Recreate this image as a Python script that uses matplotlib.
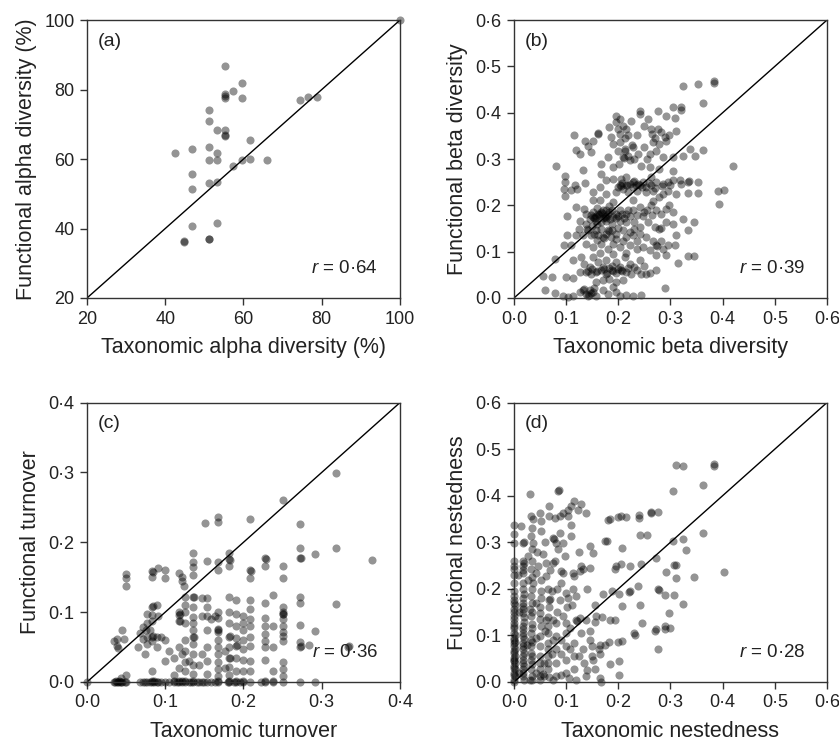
import numpy as np
import matplotlib.pyplot as plt

plt.rcParams['font.family'] = ['Liberation Sans', 'DejaVu Sans']
plt.rcParams['mathtext.fontset'] = 'custom'
plt.rcParams['mathtext.it'] = 'Liberation Sans:italic'
plt.rcParams['mathtext.rm'] = 'Liberation Sans'

# (a) taxonomic vs functional alpha diversity (%)
alpha_pts = [(100, 100), (55.3, 86.7), (59.6, 82.0), (55.3, 78.8), (57.4, 79.6),
             (55.3, 77.6), (59.6, 77.6), (74.5, 76.9), (76.6, 77.8), (78.7, 77.8),
             (51.1, 74.2), (51.1, 71.1), (53.2, 68.4), (55.3, 68.5), (55.3, 66.7),
             (55.3, 66.9), (61.7, 65.6), (42.6, 61.8), (46.8, 62.8), (51.1, 63.4),
             (53.2, 61.8), (51.1, 59.6), (53.2, 59.7), (57.4, 58.0), (59.6, 59.7),
             (61.7, 60.1), (66.0, 59.7), (46.8, 55.8), (51.1, 53.2), (53.2, 53.5),
             (46.8, 51.4), (46.8, 40.6), (53.2, 41.6), (44.7, 36.4), (44.8, 36.2),
             (51.1, 37.0), (51.2, 36.9), (55.3, 78.1)]

# (b) taxonomic vs functional beta diversity
beta_pts = [
    (0.324, 0.458), (0.353, 0.462), (0.383, 0.469), (0.383, 0.464), (0.362, 0.422),
    (0.305, 0.412), (0.321, 0.413), (0.321, 0.407), (0.276, 0.403), (0.241, 0.404),
    (0.241, 0.397), (0.196, 0.394), (0.203, 0.387), (0.225, 0.383), (0.257, 0.387),
    (0.292, 0.392), (0.308, 0.389),
    (0.183, 0.369), (0.196, 0.379), (0.209, 0.372), (0.215, 0.365), (0.186, 0.347),
    (0.203, 0.354), (0.219, 0.351), (0.235, 0.351), (0.250, 0.372), (0.263, 0.365),
    (0.276, 0.365), (0.282, 0.358), (0.292, 0.340), (0.289, 0.347), (0.311, 0.361),
    (0.298, 0.351), (0.161, 0.356), (0.162, 0.354), (0.115, 0.353), (0.137, 0.340),
    (0.151, 0.340), (0.266, 0.336), (0.279, 0.333), (0.203, 0.336), (0.190, 0.333),
    (0.142, 0.328), (0.127, 0.311), (0.148, 0.315), (0.119, 0.320), (0.180, 0.305),
    (0.199, 0.318), (0.212, 0.322), (0.219, 0.307), (0.228, 0.325), (0.238, 0.311),
    (0.250, 0.325), (0.260, 0.311), (0.273, 0.318), (0.286, 0.304), (0.305, 0.304),
    (0.324, 0.306), (0.337, 0.322), (0.348, 0.306), (0.362, 0.320), (0.080, 0.286),
    (0.132, 0.277), (0.167, 0.290), (0.201, 0.290), (0.222, 0.297), (0.244, 0.286),
    (0.260, 0.282), (0.279, 0.279), (0.420, 0.284), (0.305, 0.275), (0.209, 0.304),
    (0.211, 0.302), (0.200, 0.365), (0.212, 0.345), (0.226, 0.330), (0.213, 0.318),
    (0.230, 0.300), (0.255, 0.300), (0.265, 0.355), (0.270, 0.345), (0.190, 0.282),
    (0.098, 0.264), (0.097, 0.250), (0.095, 0.236), (0.098, 0.220), (0.117, 0.243),
    (0.121, 0.236), (0.137, 0.248), (0.167, 0.268), (0.177, 0.254), (0.190, 0.257),
    (0.199, 0.239), (0.206, 0.257), (0.215, 0.261), (0.228, 0.250), (0.230, 0.252),
    (0.238, 0.246), (0.247, 0.250), (0.254, 0.239), (0.263, 0.261), (0.273, 0.250),
    (0.286, 0.246), (0.295, 0.250), (0.305, 0.254), (0.318, 0.254), (0.311, 0.225),
    (0.334, 0.250), (0.353, 0.250), (0.334, 0.226), (0.353, 0.226), (0.391, 0.232),
    (0.402, 0.234), (0.196, 0.228), (0.209, 0.236), (0.219, 0.228), (0.235, 0.232),
    (0.254, 0.228), (0.266, 0.232), (0.286, 0.225), (0.295, 0.232), (0.164, 0.239),
    (0.151, 0.228), (0.177, 0.225), (0.203, 0.243), (0.205, 0.241), (0.215, 0.243),
    (0.217, 0.245), (0.241, 0.243), (0.228, 0.240), (0.258, 0.248), (0.110, 0.233),
    (0.208, 0.248), (0.222, 0.247), (0.234, 0.244), (0.246, 0.240), (0.262, 0.244),
    (0.270, 0.238), (0.283, 0.242), (0.300, 0.244), (0.320, 0.246), (0.336, 0.252),
    (0.393, 0.202), (0.102, 0.178), (0.119, 0.196), (0.135, 0.193), (0.139, 0.182),
    (0.151, 0.185), (0.158, 0.178), (0.164, 0.182), (0.171, 0.189), (0.177, 0.178),
    (0.183, 0.185), (0.190, 0.175), (0.196, 0.182), (0.203, 0.189), (0.215, 0.182),
    (0.228, 0.189), (0.241, 0.196), (0.250, 0.185), (0.263, 0.200), (0.273, 0.189),
    (0.282, 0.182), (0.292, 0.193), (0.305, 0.185), (0.324, 0.171), (0.164, 0.211),
    (0.190, 0.207), (0.151, 0.211), (0.228, 0.211), (0.266, 0.210), (0.279, 0.218),
    (0.298, 0.200), (0.158, 0.167), (0.167, 0.164), (0.177, 0.167), (0.187, 0.160),
    (0.203, 0.167), (0.215, 0.164), (0.231, 0.164), (0.241, 0.153), (0.257, 0.164),
    (0.270, 0.153), (0.279, 0.149), (0.281, 0.151), (0.292, 0.164), (0.305, 0.160),
    (0.346, 0.164), (0.126, 0.167), (0.139, 0.160), (0.151, 0.175), (0.153, 0.173),
    (0.161, 0.182), (0.163, 0.180), (0.174, 0.175), (0.176, 0.173), (0.167, 0.185),
    (0.169, 0.183), (0.177, 0.189), (0.145, 0.170), (0.185, 0.170), (0.195, 0.172),
    (0.210, 0.172), (0.222, 0.176), (0.236, 0.180), (0.160, 0.195), (0.182, 0.198),
    (0.148, 0.180), (0.155, 0.172), (0.160, 0.160), (0.170, 0.172), (0.180, 0.182),
    (0.188, 0.190), (0.200, 0.178), (0.207, 0.182), (0.218, 0.190), (0.248, 0.176),
    (0.256, 0.190), (0.265, 0.180), (0.140, 0.150), (0.150, 0.155), (0.200, 0.152),
    (0.102, 0.135), (0.119, 0.135), (0.132, 0.135), (0.142, 0.146), (0.148, 0.135),
    (0.158, 0.146), (0.167, 0.149), (0.177, 0.139), (0.187, 0.146), (0.196, 0.139),
    (0.209, 0.146), (0.215, 0.131), (0.228, 0.135), (0.241, 0.139), (0.254, 0.131),
    (0.266, 0.124), (0.282, 0.124), (0.295, 0.114), (0.308, 0.114), (0.311, 0.135),
    (0.334, 0.146), (0.095, 0.114), (0.110, 0.115), (0.139, 0.117), (0.151, 0.110),
    (0.167, 0.117), (0.180, 0.106), (0.190, 0.117), (0.203, 0.110), (0.222, 0.114),
    (0.235, 0.106), (0.247, 0.110), (0.260, 0.103), (0.273, 0.114), (0.275, 0.112),
    (0.286, 0.106), (0.171, 0.131), (0.173, 0.129), (0.180, 0.146), (0.182, 0.144),
    (0.196, 0.128), (0.209, 0.124), (0.160, 0.125), (0.124, 0.150), (0.230, 0.150),
    (0.154, 0.139), (0.162, 0.136), (0.186, 0.132), (0.222, 0.142), (0.235, 0.124),
    (0.078, 0.085), (0.113, 0.081), (0.129, 0.088), (0.135, 0.074), (0.145, 0.067),
    (0.151, 0.088), (0.161, 0.078), (0.171, 0.067), (0.177, 0.081), (0.187, 0.070),
    (0.196, 0.078), (0.203, 0.067), (0.212, 0.088), (0.222, 0.074), (0.231, 0.067),
    (0.241, 0.081), (0.250, 0.070), (0.273, 0.092), (0.292, 0.092), (0.334, 0.091),
    (0.346, 0.091), (0.314, 0.075), (0.273, 0.061), (0.139, 0.056), (0.141, 0.058),
    (0.148, 0.052), (0.158, 0.056), (0.160, 0.058), (0.167, 0.060), (0.177, 0.052),
    (0.179, 0.054), (0.187, 0.060), (0.189, 0.058), (0.196, 0.054), (0.206, 0.061),
    (0.208, 0.059), (0.215, 0.056), (0.225, 0.051), (0.235, 0.060), (0.244, 0.052),
    (0.254, 0.051), (0.260, 0.054), (0.126, 0.056), (0.100, 0.045), (0.113, 0.044),
    (0.072, 0.045), (0.056, 0.047), (0.171, 0.038), (0.183, 0.042), (0.196, 0.034),
    (0.209, 0.038), (0.158, 0.034), (0.190, 0.095), (0.215, 0.098), (0.165, 0.098),
    (0.150, 0.062), (0.172, 0.062), (0.183, 0.064), (0.199, 0.062), (0.218, 0.064),
    (0.060, 0.017), (0.078, 0.011), (0.094, 0.004), (0.104, 0.002), (0.113, 0.004),
    (0.126, 0.013), (0.132, 0.017), (0.139, 0.009), (0.145, 0.018), (0.151, 0.013),
    (0.158, 0.004), (0.171, 0.017), (0.180, 0.009), (0.190, 0.024), (0.196, 0.013),
    (0.203, 0.004), (0.215, 0.006), (0.228, 0.004), (0.244, 0.006), (0.289, 0.022),
    (0.142, 0.004), (0.144, 0.006), (0.154, 0.022), (0.147, 0.011), (0.135, 0.020),
]

# (c) taxonomic vs functional turnover
turn_pts = [
    (0.0, 0.0), (0.318, 0.299), (0.25, 0.261), (0.167, 0.236), (0.167, 0.229),
    (0.151, 0.228), (0.208, 0.234), (0.272, 0.226), (0.272, 0.192), (0.318, 0.192),
    (0.291, 0.183), (0.364, 0.174), (0.272, 0.178), (0.273, 0.177), (0.228, 0.178),
    (0.229, 0.176), (0.228, 0.166), (0.25, 0.166), (0.25, 0.149), (0.208, 0.161),
    (0.209, 0.159), (0.208, 0.149), (0.182, 0.185), (0.182, 0.176), (0.183, 0.175),
    (0.182, 0.166), (0.167, 0.172), (0.167, 0.16), (0.154, 0.173), (0.136, 0.185),
    (0.136, 0.172), (0.136, 0.165), (0.136, 0.153), (0.118, 0.156), (0.121, 0.151),
    (0.121, 0.144), (0.124, 0.137), (0.1, 0.16), (0.1, 0.149), (0.091, 0.163),
    (0.083, 0.159), (0.084, 0.157), (0.083, 0.151), (0.05, 0.154), (0.05, 0.149),
    (0.05, 0.137), (0.318, 0.111), (0.334, 0.05), (0.335, 0.051), (0.272, 0.122),
    (0.272, 0.113), (0.272, 0.082), (0.291, 0.073), (0.272, 0.057), (0.272, 0.05),
    (0.273, 0.052), (0.284, 0.053), (0.25, 0.107), (0.25, 0.1), (0.25, 0.097),
    (0.251, 0.098), (0.25, 0.09), (0.25, 0.08), (0.25, 0.072), (0.25, 0.066),
    (0.25, 0.058), (0.25, 0.028), (0.25, 0.018), (0.25, 0.008), (0.238, 0.125),
    (0.238, 0.08), (0.238, 0.05), (0.238, 0.015), (0.228, 0.113), (0.228, 0.092),
    (0.228, 0.08), (0.228, 0.068), (0.228, 0.058), (0.228, 0.05), (0.228, 0.032),
    (0.208, 0.118), (0.208, 0.104), (0.208, 0.09), (0.208, 0.08), (0.208, 0.065),
    (0.208, 0.052), (0.208, 0.03), (0.208, 0.015), (0.2, 0.095), (0.2, 0.085),
    (0.2, 0.075), (0.2, 0.06), (0.2, 0.047), (0.2, 0.032), (0.2, 0.016),
    (0.191, 0.118), (0.191, 0.098), (0.191, 0.08), (0.191, 0.063), (0.191, 0.052),
    (0.192, 0.053), (0.191, 0.035), (0.191, 0.015), (0.182, 0.122), (0.182, 0.1),
    (0.182, 0.085), (0.182, 0.065), (0.183, 0.066), (0.182, 0.05), (0.182, 0.035),
    (0.183, 0.034), (0.182, 0.022), (0.182, 0.01), (0.176, 0.045), (0.176, 0.02),
    (0.167, 0.1), (0.167, 0.092), (0.167, 0.076), (0.168, 0.074), (0.167, 0.072),
    (0.167, 0.06), (0.167, 0.05), (0.167, 0.04), (0.167, 0.028), (0.167, 0.018),
    (0.167, 0.008), (0.163, 0.095), (0.158, 0.09), (0.154, 0.12), (0.154, 0.108),
    (0.154, 0.095), (0.154, 0.075), (0.154, 0.05), (0.154, 0.03), (0.154, 0.012),
    (0.147, 0.12), (0.147, 0.095), (0.147, 0.04), (0.143, 0.025), (0.136, 0.122),
    (0.137, 0.121), (0.136, 0.108), (0.136, 0.093), (0.136, 0.084), (0.136, 0.074),
    (0.136, 0.065), (0.137, 0.064), (0.136, 0.055), (0.136, 0.04), (0.136, 0.025),
    (0.136, 0.012), (0.13, 0.03), (0.125, 0.122), (0.125, 0.11), (0.125, 0.1),
    (0.125, 0.085), (0.125, 0.06), (0.125, 0.045), (0.125, 0.028), (0.125, 0.015),
    (0.121, 0.04), (0.118, 0.1), (0.118, 0.096), (0.119, 0.097), (0.118, 0.087),
    (0.119, 0.088), (0.118, 0.05), (0.118, 0.02), (0.111, 0.035), (0.111, 0.01),
    (0.105, 0.045), (0.1, 0.03), (0.1, 0.06), (0.095, 0.065), (0.091, 0.095),
    (0.089, 0.11), (0.089, 0.065), (0.089, 0.05), (0.083, 0.108), (0.084, 0.109),
    (0.083, 0.096), (0.083, 0.087), (0.083, 0.065), (0.084, 0.066), (0.083, 0.058),
    (0.08, 0.075), (0.077, 0.097), (0.077, 0.085), (0.077, 0.065), (0.077, 0.055),
    (0.075, 0.075), (0.071, 0.078), (0.071, 0.062), (0.068, 0.07), (0.074, 0.04),
    (0.083, 0.015), (0.065, 0.05), (0.045, 0.075), (0.038, 0.062), (0.035, 0.058),
    (0.038, 0.052), (0.04, 0.048), (0.047, 0.062), (0.043, 0.005), (0.05, 0.01),
    (0.034, 0.0), (0.036, 0.0), (0.038, 0.0), (0.04, 0.0), (0.042, 0.0),
    (0.045, 0.0), (0.048, 0.0), (0.05, 0.0), (0.068, 0.0), (0.071, 0.0),
    (0.074, 0.0), (0.077, 0.0), (0.08, 0.0), (0.083, 0.0), (0.086, 0.0),
    (0.089, 0.0), (0.091, 0.0), (0.095, 0.0), (0.1, 0.0), (0.105, 0.0),
    (0.111, 0.0), (0.115, 0.0), (0.118, 0.0), (0.121, 0.0), (0.125, 0.0),
    (0.13, 0.0), (0.133, 0.0), (0.136, 0.0), (0.14, 0.0), (0.143, 0.0),
    (0.147, 0.0), (0.15, 0.0), (0.154, 0.0), (0.158, 0.0), (0.163, 0.0),
    (0.167, 0.0), (0.18, 0.0), (0.182, 0.0), (0.188, 0.0), (0.191, 0.0),
    (0.195, 0.0), (0.2, 0.0), (0.208, 0.0), (0.222, 0.0), (0.228, 0.0),
    (0.238, 0.0), (0.25, 0.0), (0.272, 0.0), (0.291, 0.0), (0.037, 0.001),
    (0.041, 0.002), (0.044, 0.0), (0.083, 0.001), (0.086, 0.002), (0.111, 0.001),
    (0.121, 0.001), (0.125, 0.002), (0.136, 0.001), (0.167, 0.001), (0.182, 0.001),
    (0.191, 0.001), (0.2, 0.001), (0.228, 0.001), (0.238, 0.001), (0.118, 0.001),
]

# (d) taxonomic vs functional nestedness
nest_pts = [
    (0.383, 0.469), (0.383, 0.464), (0.311, 0.466), (0.325, 0.464), (0.362, 0.422),
    (0.305, 0.411), (0.362, 0.320), (0.305, 0.303), (0.325, 0.306), (0.330, 0.283),
    (0.306, 0.252), (0.310, 0.252), (0.310, 0.224), (0.346, 0.226), (0.402, 0.237),
    (0.292, 0.236), (0.273, 0.267), (0.263, 0.362), (0.276, 0.365), (0.263, 0.366),
    (0.239, 0.358), (0.239, 0.352), (0.199, 0.355), (0.205, 0.356), (0.215, 0.355),
    (0.185, 0.351), (0.180, 0.347), (0.241, 0.315), (0.255, 0.315), (0.208, 0.288),
    (0.178, 0.303), (0.175, 0.303), (0.206, 0.253), (0.193, 0.242), (0.196, 0.248),
    (0.222, 0.249), (0.244, 0.253), (0.238, 0.207), (0.276, 0.199), (0.278, 0.197),
    (0.221, 0.193), (0.222, 0.195), (0.289, 0.186), (0.306, 0.186), (0.171, 0.190),
    (0.187, 0.195), (0.202, 0.188), (0.208, 0.163), (0.242, 0.165), (0.297, 0.148),
    (0.324, 0.168), (0.169, 0.140), (0.185, 0.133), (0.193, 0.133), (0.157, 0.141),
    (0.272, 0.114), (0.271, 0.109), (0.289, 0.121), (0.299, 0.116), (0.289, 0.114),
    (0.231, 0.105), (0.233, 0.100), (0.246, 0.127), (0.276, 0.070), (0.202, 0.046),
    (0.202, 0.016), (0.185, 0.039), (0.164, 0.080), (0.174, 0.080), (0.183, 0.085),
    (0.199, 0.086), (0.208, 0.087), (0.150, 0.077), (0.163, 0.071), (0.155, 0.128),
    (0.145, 0.110), (0.165, 0.060), (0.150, 0.055),
    (0.084, 0.410), (0.086, 0.413), (0.031, 0.403), (0.116, 0.389), (0.129, 0.383),
    (0.123, 0.370), (0.110, 0.378), (0.104, 0.370), (0.094, 0.363), (0.088, 0.356),
    (0.139, 0.363), (0.110, 0.338), (0.104, 0.356), (0.068, 0.378), (0.049, 0.363),
    (0.033, 0.356), (0.036, 0.349), (0.052, 0.345), (0.068, 0.356), (0.078, 0.353),
    (0.014, 0.335), (0.001, 0.338), (0.000, 0.317), (0.000, 0.299), (0.017, 0.299),
    (0.019, 0.301), (0.033, 0.313), (0.036, 0.299), (0.052, 0.324), (0.075, 0.310),
    (0.077, 0.308), (0.081, 0.299), (0.088, 0.320), (0.094, 0.299), (0.110, 0.313),
    (0.145, 0.292), (0.151, 0.277), (0.129, 0.249), (0.126, 0.238), (0.132, 0.242),
    (0.145, 0.245), (0.113, 0.234), (0.116, 0.227), (0.091, 0.238), (0.094, 0.234),
    (0.075, 0.256), (0.078, 0.259), (0.056, 0.274), (0.062, 0.256), (0.046, 0.249),
    (0.043, 0.234), (0.017, 0.260), (0.017, 0.249), (0.017, 0.234), (0.017, 0.213),
    (0.019, 0.255), (0.000, 0.260), (0.000, 0.242), (0.000, 0.213), (0.000, 0.177),
    (0.033, 0.242), (0.036, 0.213), (0.062, 0.227), (0.091, 0.213), (0.113, 0.199),
    (0.119, 0.184), (0.100, 0.191), (0.104, 0.181), (0.088, 0.177), (0.072, 0.195),
    (0.068, 0.177), (0.070, 0.179), (0.052, 0.195), (0.043, 0.170), (0.033, 0.184),
    (0.017, 0.170), (0.017, 0.156), (0.000, 0.156), (0.000, 0.141), (0.000, 0.127),
    (0.030, 0.156), (0.033, 0.141), (0.049, 0.148), (0.062, 0.134), (0.075, 0.134),
    (0.081, 0.127), (0.094, 0.141), (0.100, 0.127), (0.119, 0.134), (0.121, 0.132),
    (0.126, 0.138), (0.139, 0.134), (0.000, 0.105), (0.000, 0.091), (0.000, 0.077),
    (0.000, 0.062), (0.000, 0.048), (0.000, 0.034), (0.000, 0.019), (0.000, 0.005),
    (0.002, 0.085), (0.002, 0.070), (0.002, 0.055), (0.002, 0.027), (0.002, 0.012),
    (0.000, 0.195), (0.002, 0.165), (0.000, 0.115), (0.002, 0.100), (0.002, 0.040),
    (0.000, 0.185), (0.001, 0.170), (0.000, 0.150), (0.001, 0.135), (0.000, 0.120),
    (0.001, 0.095), (0.000, 0.083), (0.001, 0.066), (0.000, 0.052), (0.001, 0.044),
    (0.000, 0.030), (0.001, 0.015), (0.000, 0.001), (0.000, 0.230), (0.001, 0.250),
    (0.017, 0.113), (0.017, 0.099), (0.017, 0.084), (0.017, 0.070), (0.017, 0.055),
    (0.017, 0.041), (0.017, 0.027), (0.017, 0.012), (0.019, 0.190), (0.019, 0.140),
    (0.019, 0.128), (0.019, 0.092), (0.019, 0.062), (0.019, 0.034), (0.019, 0.005),
    (0.018, 0.200), (0.018, 0.180), (0.018, 0.163), (0.018, 0.148), (0.018, 0.120),
    (0.018, 0.106), (0.018, 0.077), (0.018, 0.048), (0.018, 0.020), (0.018, 0.240),
    (0.033, 0.105), (0.033, 0.091), (0.033, 0.077), (0.033, 0.062), (0.033, 0.048),
    (0.033, 0.027), (0.035, 0.200), (0.035, 0.170), (0.035, 0.125), (0.035, 0.013),
    (0.034, 0.150), (0.034, 0.115), (0.034, 0.085), (0.034, 0.055), (0.034, 0.038),
    (0.034, 0.005), (0.034, 0.225), (0.034, 0.260), (0.034, 0.285), (0.034, 0.330),
    (0.049, 0.098), (0.049, 0.077), (0.049, 0.056), (0.049, 0.027), (0.049, 0.013),
    (0.051, 0.120), (0.051, 0.180), (0.051, 0.220), (0.065, 0.105), (0.065, 0.084),
    (0.065, 0.055), (0.065, 0.027), (0.067, 0.160), (0.067, 0.010), (0.081, 0.098),
    (0.081, 0.070), (0.081, 0.041), (0.081, 0.012), (0.083, 0.150), (0.083, 0.200),
    (0.050, 0.135), (0.050, 0.160), (0.050, 0.040), (0.050, 0.005), (0.066, 0.140),
    (0.066, 0.120), (0.066, 0.070), (0.066, 0.040), (0.058, 0.012), (0.042, 0.020),
    (0.100, 0.105), (0.100, 0.077), (0.100, 0.048), (0.100, 0.019), (0.102, 0.160),
    (0.116, 0.084), (0.116, 0.055), (0.116, 0.027), (0.119, 0.005), (0.132, 0.070),
    (0.135, 0.041), (0.139, 0.012), (0.151, 0.048), (0.155, 0.027), (0.164, 0.009),
    (0.167, 0.001), (0.058, 0.040), (0.072, 0.060), (0.090, 0.090), (0.108, 0.115),
    (0.060, 0.110), (0.042, 0.095), (0.025, 0.080), (0.027, 0.220), (0.045, 0.280),
    (0.060, 0.300), (0.098, 0.270), (0.125, 0.280), (0.070, 0.240), (0.085, 0.285),
    (0.140, 0.200), (0.155, 0.165), (0.128, 0.105), (0.145, 0.090), (0.090, 0.015),
    (0.105, 0.008), (0.075, 0.005), (0.055, 0.018), (0.030, 0.005), (0.010, 0.020),
    (0.010, 0.150), (0.008, 0.230), (0.027, 0.270), (0.065, 0.200), (0.112, 0.165),
    (0.090, 0.060), (0.108, 0.070), (0.125, 0.055), (0.140, 0.025), (0.075, 0.090),
]

panels = [
    ('(a)', alpha_pts, (20, 100), [20, 40, 60, 80, 100],
     'Taxonomic alpha diversity (%)', 'Functional alpha diversity (%)', '0·64'),
    ('(b)', beta_pts, (0, 0.6), [0, 0.1, 0.2, 0.3, 0.4, 0.5, 0.6],
     'Taxonomic beta diversity', 'Functional beta diversity', '0·39'),
    ('(c)', turn_pts, (0, 0.4), [0, 0.1, 0.2, 0.3, 0.4],
     'Taxonomic turnover', 'Functional turnover', '0·36'),
    ('(d)', nest_pts, (0, 0.6), [0, 0.1, 0.2, 0.3, 0.4, 0.5, 0.6],
     'Taxonomic nestedness', 'Functional nestedness', '0·28'),
]

def fmt(v, lim):
    if lim[1] > 1:
        return '%d' % v
    return ('%.1f' % v).replace('.', '·')

fig = plt.figure(figsize=(8.39, 7.45), dpi=100)
boxes = [(0.1037, 0.600, 0.373, 0.373), (0.6126, 0.600, 0.373, 0.373),
         (0.1037, 0.0846, 0.373, 0.375), (0.6126, 0.0846, 0.373, 0.375)]
edge = '#333333'

for (lab, pts, lim, ticks, xl, yl, r), box in zip(panels, boxes):
    ax = fig.add_axes(box)
    pts = np.array(pts)
    ax.plot(lim, lim, color='k', lw=1.0, zorder=1)
    ax.scatter(pts[:, 0], pts[:, 1], s=34, color='k', alpha=0.42,
               linewidths=0, zorder=2, clip_on=False)
    ax.set_xlim(lim)
    ax.set_ylim(lim)
    ax.set_xticks(ticks)
    ax.set_yticks(ticks)
    ax.set_xticklabels([fmt(t, lim) for t in ticks])
    ax.set_yticklabels([fmt(t, lim) for t in ticks])
    ax.tick_params(direction='out', length=5, width=1, colors=edge,
                   labelsize=13, labelcolor='#222222', pad=4)
    for sp in ax.spines.values():
        sp.set_color(edge)
        sp.set_linewidth(1.0)
    ax.set_xlabel(xl, fontsize=15.5, color='#222222', labelpad=7)
    ax.set_ylabel(yl, fontsize=15.5, color='#222222', labelpad=5)
    ax.text(0.035, 0.955, lab, transform=ax.transAxes, fontsize=14,
            ha='left', va='top', color='#222222')
    ax.text(0.93, 0.075, r'$r$ = ' + r, transform=ax.transAxes, fontsize=13.5,
            ha='right', va='bottom', color='#222222')

fig.savefig('out.png', dpi=100)
